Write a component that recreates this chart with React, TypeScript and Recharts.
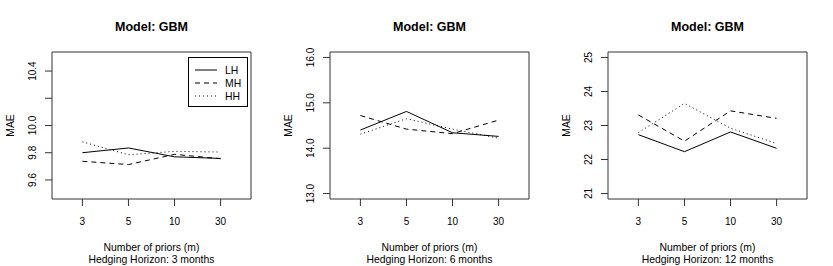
import React from 'react';
import { LineChart, Line, XAxis, YAxis, ReferenceArea, Legend } from 'recharts';

// categories on the x axis
const priors = ['3', '5', '10', '30'];

// MAE per horizon
const lh3 = [9.8, 9.835, 9.77, 9.758];
const mh3 = [9.737, 9.713, 9.788, 9.756];
const hh3 = [9.88, 9.785, 9.81, 9.805];

const lh6 = [14.4, 14.81, 14.34, 14.26];
const mh6 = [14.72, 14.42, 14.32, 14.62];
const hh6 = [14.31, 14.65, 14.42, 14.22];

const lh12 = [22.73, 22.23, 22.81, 22.33];
const mh12 = [23.31, 22.54, 23.43, 23.21];
const hh12 = [22.79, 23.65, 22.92, 22.47];

// y ticks and their labels (R drops some labels)
const yTicks3 = [9.6, 9.8, 10.0, 10.2, 10.4];
const yLabels3 = ['9.6', '9.8', '10.0', '', '10.4'];
const yTicks6 = [13, 13.5, 14, 14.5, 15, 15.5, 16];
const yLabels6 = ['13.0', '', '14.0', '', '15.0', '', '16.0'];
const yTicks12 = [21, 22, 23, 24, 25];
const yLabels12 = ['21', '22', '23', '24', '25'];

const seriesNames = ['LH', 'MH', 'HH'];
const dashes: Record<string, string | undefined> = { LH: undefined, MH: '5 4', HH: '1 3' };

const FONT = '"Liberation Sans", Arial, Helvetica, sans-serif';
const X_DOMAIN: [number, number] = [0.34, 4.66];

const buildRows = (lh: number[], mh: number[], hh: number[]) =>
  priors.map((p, i) => ({ pos: i + 1, LH: lh[i], MH: mh[i], HH: hh[i] }));

const XTick = (props: any) => {
  const { x, y, payload } = props;
  return (
    <text x={x} y={y + 16.5} textAnchor="middle" fontSize={10} fontFamily={FONT} fill="#000">
      {priors[payload.value - 1]}
    </text>
  );
};

const makeYTick = (ticks: number[], labels: string[]) => (props: any) => {
  const { x, y, payload } = props;
  const idx = ticks.findIndex((t) => Math.abs(t - payload.value) < 1e-6);
  const lbl = idx >= 0 ? labels[idx] : '';
  const bx = x - 7;
  return (
    <text x={bx} y={y} transform={`rotate(-90, ${bx}, ${y})`} textAnchor="middle" fontSize={10} fontFamily={FONT} fill="#000">
      {lbl}
    </text>
  );
};

const LegendBox = () => (
  <svg width={60} height={50}>
    <rect x={0.5} y={0.5} width={59} height={49} fill="#fff" stroke="#000" />
    {seriesNames.map((n, i) => (
      <g key={n}>
        <line x1={7} x2={29} y1={13 + i * 13} y2={13 + i * 13} stroke="#000" strokeDasharray={dashes[n]} />
        <text x={37} y={13 + i * 13 + 4} fontSize={10.4} fontFamily={FONT} fill="#000">{n}</text>
      </g>
    ))}
  </svg>
);

interface PanelProps {
  left: number;
  lh: number[];
  mh: number[];
  hh: number[];
  domain: [number, number];
  ticks: number[];
  labels: string[];
  horizon: string;
  legend?: boolean;
}

const Panel = ({ left, lh, mh, hh, domain, ticks, labels, horizon, legend }: PanelProps) => {
  const rows = buildRows(lh, mh, hh);
  return (
    <div style={{ position: 'absolute', left, top: 0, width: 277, height: 266 }}>
      <div
        style={{
          position: 'absolute', left: 52, top: 19, width: 199, lineHeight: '16px',
          textAlign: 'center', fontWeight: 'bold', fontSize: 12.5, fontFamily: FONT, color: '#000', zIndex: 2,
        }}
      >
        Model: GBM
      </div>
      <LineChart width={277} height={266} data={rows} margin={{ top: 52, right: 26, bottom: 0, left: 0 }}>
        <XAxis
          dataKey="pos"
          type="number"
          domain={X_DOMAIN}
          ticks={[1, 2, 3, 4]}
          allowDataOverflow
          axisLine={false}
          tickLine={{ stroke: '#333' }}
          tickSize={7}
          tick={<XTick />}
          height={67}
          label={(p: any) => {
            const vb = p.viewBox;
            const cx = vb.x + vb.width / 2;
            return (
              <text x={cx} textAnchor="middle" fontSize={10.4} fontFamily={FONT} fill="#000">
                <tspan x={cx} y={vb.y + 51.5}>Number of priors (m)</tspan>
                <tspan x={cx} y={vb.y + 63.5}>{horizon}</tspan>
              </text>
            );
          }}
        />
        <YAxis
          type="number"
          domain={domain}
          ticks={ticks}
          allowDataOverflow
          axisLine={false}
          tickLine={{ stroke: '#333' }}
          tickSize={7}
          width={52}
          tick={makeYTick(ticks, labels)}
          label={(p: any) => {
            const vb = p.viewBox;
            const cy = vb.y + vb.height / 2;
            return (
              <text x={14} y={cy} transform={`rotate(-90, 14, ${cy})`} textAnchor="middle" fontSize={10.4} fontFamily={FONT} fill="#000">
                MAE
              </text>
            );
          }}
        />
        <ReferenceArea x1={X_DOMAIN[0]} x2={X_DOMAIN[1]} y1={domain[0]} y2={domain[1]} fill="none" stroke="#333" strokeWidth={1} />
        {seriesNames.map((n) => (
          <Line
            key={n}
            dataKey={n}
            name={n}
            stroke="#000"
            strokeWidth={1}
            strokeDasharray={dashes[n]}
            dot={false}
            isAnimationActive={false}
          />
        ))}
        {legend && (
          <Legend
            layout="horizontal"
            verticalAlign="middle"
            align="center"
            content={() => <LegendBox />}
            wrapperStyle={{ left: 188, top: 57, width: 60, height: 50, lineHeight: 0 }}
          />
        )}
      </LineChart>
    </div>
  );
};

const App = () => (
  <div style={{ position: 'absolute', left: 0, top: 0, width: 833, height: 266, background: '#fff' }}>
    <Panel left={0} lh={lh3} mh={mh3} hh={hh3} domain={[9.46, 10.54]} ticks={yTicks3} labels={yLabels3} horizon="Hedging Horizon: 3 months" legend />
    <Panel left={278} lh={lh6} mh={mh6} hh={hh6} domain={[12.88, 16.12]} ticks={yTicks6} labels={yLabels6} horizon="Hedging Horizon: 6 months" />
    <Panel left={556} lh={lh12} mh={mh12} hh={hh12} domain={[20.84, 25.16]} ticks={yTicks12} labels={yLabels12} horizon="Hedging Horizon: 12 months" />
  </div>
);

export default App;
